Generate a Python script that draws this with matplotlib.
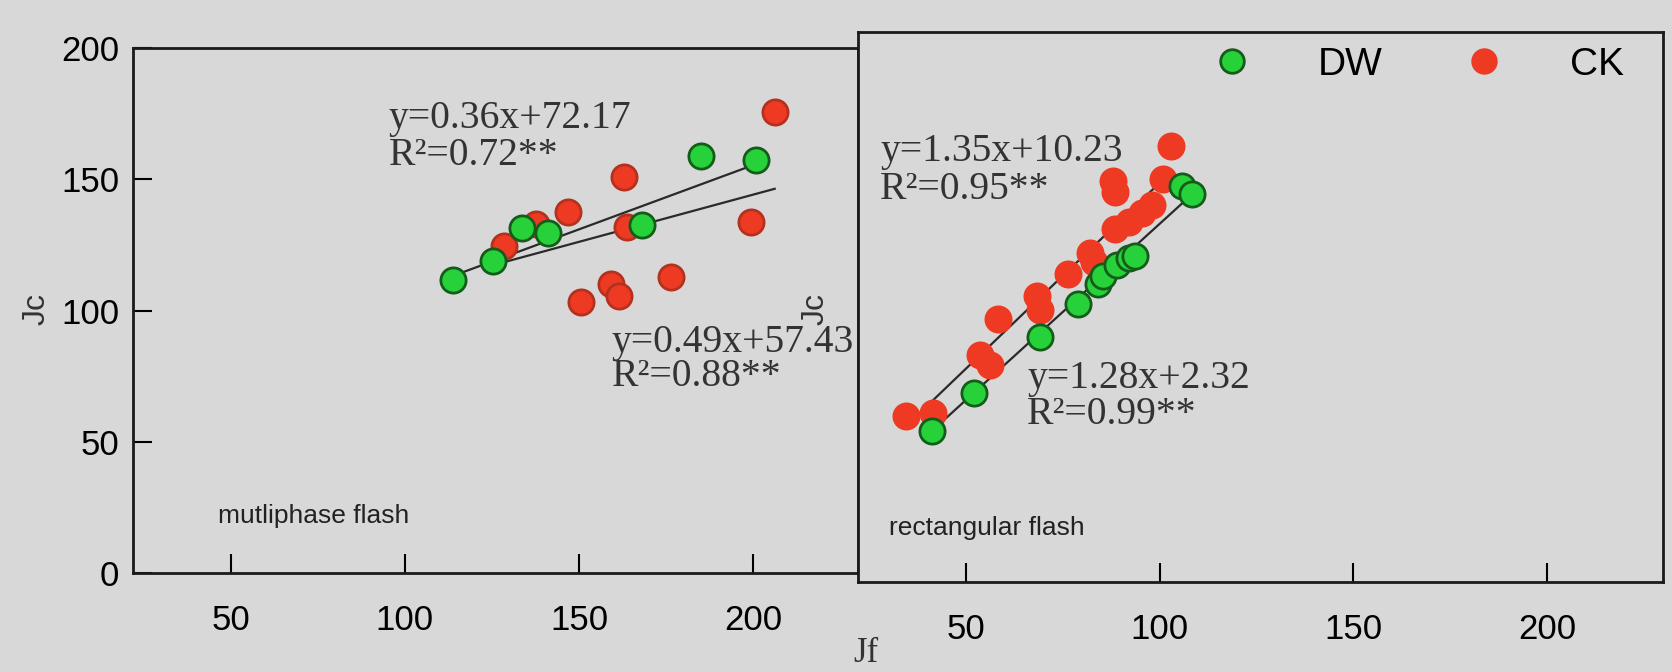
import matplotlib
matplotlib.use('Agg')
import matplotlib.pyplot as plt
from matplotlib.lines import Line2D

# multiphase flash panel
multi_dw_x = [113.7, 125.3, 133.6, 141.2, 168.1, 185.0, 200.6]
multi_dw_y = [111.8, 118.7, 131.3, 129.7, 132.5, 159.0, 157.3]
multi_ck_x = [206.1, 163.0, 146.7, 137.5, 163.6, 199.4, 128.4, 176.4, 159.0, 161.4, 150.4]
multi_ck_y = [175.6, 150.8, 137.4, 132.9, 131.7, 133.7, 124.4, 112.6, 110.2, 105.7, 103.3]

# rectangular flash panel
rect_dw_x = [41.1, 52.0, 69.1, 78.9, 84.0, 85.4, 88.9, 92.0, 93.7, 105.7, 108.3]
rect_dw_y = [54.9, 68.7, 89.2, 101.0, 108.5, 111.2, 115.2, 117.9, 118.7, 143.9, 141.1]
rect_ck_x = [34.3, 41.4, 53.4, 56.0, 58.3, 68.3, 69.1, 76.3, 82.0, 82.9, 88.3,
             92.0, 95.4, 98.0, 100.9, 88.0, 88.3, 102.9]
rect_ck_y = [60.4, 61.6, 82.5, 78.9, 95.5, 104.1, 99.0, 112.0, 119.5, 116.3, 128.5,
             130.9, 134.1, 137.2, 146.7, 146.0, 142.0, 158.5]

# fitted lines (slope, intercept) as printed on the chart
fits = {
    'multi_dw': (0.49, 57.43), 'multi_ck': (0.36, 72.17),
    'rect_dw': (1.28, 2.32), 'rect_ck': (1.35, 10.23),
}

x_ticks = [50, 100, 150, 200]
y_ticks = [0, 50, 100, 150, 200]

GREEN, GREEN_EDGE = '#27d13a', '#145c1a'
RED, RED_EDGE = '#ee3a22', '#b3321f'
BG = '#d8d8d8'
SERIF = ['Liberation Serif', 'DejaVu Serif']
SANS = ['Liberation Sans', 'DejaVu Sans']

W, H = 1672, 672
fig = plt.figure(figsize=(W / 100, H / 100), dpi=100, facecolor=BG)
ax1 = fig.add_axes([133 / W, (H - 573) / H, 725 / W, 525 / H], facecolor=BG)
ax2 = fig.add_axes([858 / W, (H - 582) / H, 805 / W, 550 / H], facecolor=BG)


def fit_line(ax, xs, key):
    a, b = fits[key]
    x0, x1 = min(xs), max(xs)
    ax.plot([x0, x1], [a * x0 + b, a * x1 + b], color='#2a2a2a', lw=1.6, zorder=2)


def scatter(ax, xs, ys, color, edge):
    ax.scatter(xs, ys, s=330, color=color, edgecolors=edge, linewidths=2, zorder=3)


scatter(ax1, multi_ck_x, multi_ck_y, RED, RED_EDGE)
scatter(ax1, multi_dw_x, multi_dw_y, GREEN, GREEN_EDGE)
fit_line(ax1, multi_dw_x, 'multi_dw')
fit_line(ax1, multi_ck_x, 'multi_ck')

scatter(ax2, rect_ck_x, rect_ck_y, RED, RED)
scatter(ax2, rect_dw_x, rect_dw_y, GREEN, GREEN_EDGE)
fit_line(ax2, rect_dw_x, 'rect_dw')
fit_line(ax2, rect_ck_x, 'rect_ck')

for ax in (ax1, ax2):
    ax.set_xlim(22, 230)
    ax.set_ylim(0, 200)
    ax.set_xticks(x_ticks)
    ax.tick_params(direction='in', length=14, width=1.5, labelsize=25, pad=22)
    for lab in ax.get_xticklabels():
        lab.set_family(SANS)
    for sp in ax.spines.values():
        sp.set_linewidth(2)
        sp.set_color('#1a1a1a')

ax1.set_yticks(y_ticks)
ax1.tick_params(axis='y', pad=10)
for lab in ax1.get_yticklabels():
    lab.set_family(SANS)
ax2.set_yticks([])

eq_kw = dict(fontsize=28.5, family=SERIF, color='#333333', ha='left', va='baseline')
ax1.text(95.3, 169.5, 'y=0.36x+72.17', **eq_kw)
ax1.text(95.3, 155.3, 'R\u00b2=0.72**', **eq_kw)
ax1.text(159.3, 84.1, 'y=0.49x+57.43', clip_on=True, **eq_kw)
ax1.text(159.3, 71.1, 'R\u00b2=0.88**', **eq_kw)
ax2.text(27.7, 153.0, 'y=1.35x+10.23', **eq_kw)
ax2.text(27.7, 139.2, 'R\u00b2=0.95**', **eq_kw)
ax2.text(65.7, 70.7, 'y=1.28x+2.32', **eq_kw)
ax2.text(65.7, 57.3, 'R\u00b2=0.99**', **eq_kw)

ax1.text(46.3, 19.1, 'mutliphase flash', fontsize=19, family=SANS, color='#222222')
ax2.text(30.0, 17.1, 'rectangular flash', fontsize=19, family=SANS, color='#222222')

fig.text(37 / W, 1 - 309 / H, 'Jc', rotation=90, fontsize=23, family=SANS,
         ha='center', va='center', color='#333333')
fig.text(816 / W, 1 - 309 / H, 'Jc', rotation=90, fontsize=23, family=SANS,
         ha='center', va='center', color='#333333')
fig.text(866 / W, 1 - 653 / H, 'Jf', fontsize=25, family=SERIF,
         ha='center', va='center', color='#333333')

handles = [
    Line2D([], [], ls='none', marker='o', ms=17, mfc=GREEN, mec=GREEN_EDGE, mew=2),
    Line2D([], [], ls='none', marker='o', ms=17, mfc=RED, mec=RED, mew=2),
]
ax2.legend(handles, ['DW', 'CK'], ncol=2, frameon=False, loc='upper right',
           bbox_to_anchor=(0.98, 1.015), prop={'family': SANS, 'size': 28},
           handletextpad=1.2, columnspacing=1.6, borderaxespad=0.2)

fig.savefig('out.png', dpi=100, facecolor=BG)
